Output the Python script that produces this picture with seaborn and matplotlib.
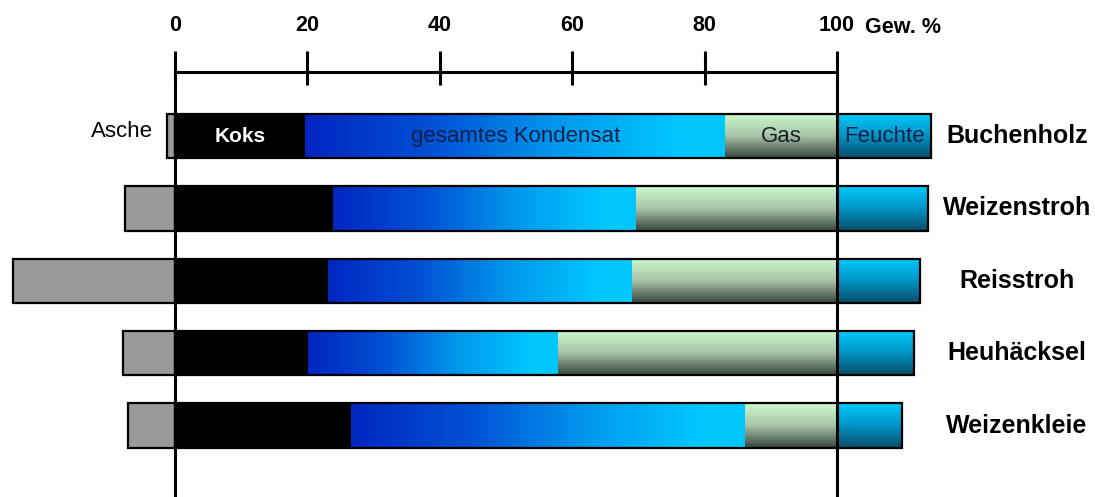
import numpy as np
import pandas as pd
import matplotlib
matplotlib.use("Agg")
import matplotlib.pyplot as plt
import seaborn as sns
from matplotlib.colors import LinearSegmentedColormap

# Mass balance of pyrolysis products (weight-% of dry feed), moisture and ash drawn outside
materials = ["Buchenholz", "Weizenstroh", "Reisstroh", "Heuhäcksel", "Weizenkleie"]
asche = [1.2, 7.5, 24.5, 7.9, 7.1]
koks = [19.7, 23.8, 23.1, 20.1, 26.6]
kondensat = [63.4, 45.9, 45.9, 37.7, 59.5]
gas = [16.9, 30.3, 31.0, 42.2, 13.9]
feuchte = [14.2, 13.8, 12.5, 11.6, 9.8]
ticks = [0, 20, 40, 60, 80, 100]
tick_labels = ["0", "20", "40", "60", "80", "100"]
unit_label = "Gew. %"
segment_labels = ["Asche", "Koks", "gesamtes Kondensat", "Gas", "Feuchte"]

sns.set_theme(style="white")
plt.rcParams["font.family"] = ["Liberation Sans", "DejaVu Sans"]

df = pd.DataFrame({
    "material": materials,
    "asche": asche,
    "koks": koks,
    "kondensat": kondensat,
    "gas": gas,
    "feuchte": feuchte,
})
df["asche_neg"] = -df["asche"]
df["kond_end"] = df["koks"] + df["kondensat"]
df["trocken"] = df["kond_end"] + df["gas"]
df["gesamt"] = df["trocken"] + df["feuchte"]

W, H = 1095, 497
fig = plt.figure(figsize=(W / 100, H / 100), dpi=100)
axis_px = 72
ax = fig.add_axes([0, 0, 1, 1 - axis_px / H])

BAR_H = 0.615
EDGE = 1.6
LINE = 2.2

# ash to the left of zero
sns.barplot(data=df, x="asche_neg", y="material", orient="h", color="#999999",
            edgecolor="black", linewidth=EDGE, width=BAR_H, ax=ax, zorder=3)

# outline of the full bar (dry products + moisture)
n0 = len(ax.patches)
sns.barplot(data=df, x="gesamt", y="material", orient="h", color="white",
            edgecolor="black", linewidth=EDGE, width=BAR_H, ax=ax, zorder=4)
outline = ax.patches[n0:]
for p in outline:
    p.set_facecolor("none")

# char (Koks)
sns.barplot(data=df, x="koks", y="material", orient="h", color="black",
            linewidth=0, width=BAR_H, ax=ax, zorder=2)

cmap_kond = LinearSegmentedColormap.from_list("kond", ["#0026c0", "#0050d4", "#0098ec", "#00c8ff"])
cmap_gas = LinearSegmentedColormap.from_list("gas", ["#ccfacc", "#a8c4a8", "#34443a"])
cmap_feu = LinearSegmentedColormap.from_list("feu", ["#00ccff", "#0094c4", "#0a4c68"])

t = np.linspace(0, 1, 256)
horiz = cmap_kond(np.clip(t / 0.9, 0, 1))[None, :, :3]
vert_gas = cmap_gas(t)[:, None, :3]
vert_feu = cmap_feu(t)[:, None, :3]

for i, p in enumerate(outline):
    y0 = p.get_y()
    y1 = y0 + p.get_height()
    row = df.iloc[i]
    ax.imshow(horiz, extent=(row["koks"], row["kond_end"], y1, y0), aspect="auto",
              interpolation="bilinear", zorder=2)
    ax.imshow(vert_gas, extent=(row["kond_end"], row["trocken"], y1, y0), aspect="auto",
              interpolation="bilinear", zorder=2)
    ax.imshow(vert_feu, extent=(row["trocken"], row["gesamt"], y1, y0), aspect="auto",
              interpolation="bilinear", zorder=2)

px_per_unit = (837 - 175) / 100
ax.set_xlim(-175 / px_per_unit, (W - 175) / px_per_unit)
ax.set_ylim(4.986, -0.884)

# only the top spine remains, spanning 0..100
for side in ["left", "right", "bottom"]:
    ax.spines[side].set_visible(False)
ax.spines["top"].set_visible(True)
ax.spines["top"].set_bounds(0, 100)
ax.spines["top"].set_linewidth(LINE)
ax.spines["top"].set_color("black")

# top axis with ticks crossing the axis line
ax.xaxis.set_ticks_position("top")
ax.set_xticks(ticks, tick_labels)
ax.set_xticks(ticks, minor=True)
ax.xaxis.remove_overlapping_locs = False
ax.tick_params(axis="x", which="major", direction="out", length=21 * 0.72, width=LINE,
               pad=15 * 0.72, labelsize=15.5, color="black", labelcolor="black",
               top=True, bottom=False, labeltop=True, labelbottom=False)
ax.tick_params(axis="x", which="minor", direction="in", length=13 * 0.72, width=LINE,
               color="black", top=True, bottom=False)
for lab in ax.get_xticklabels():
    lab.set_fontweight("bold")
ax.set_yticks([])
ax.set_xlabel("")
ax.set_ylabel("")

ax.axvline(0, color="black", lw=LINE, zorder=5)
ax.axvline(100, color="black", lw=LINE, zorder=5)

ax.text(104.2, 1 + (axis_px - 33) / (H - axis_px), unit_label,
        transform=ax.get_xaxis_transform(), ha="left", va="baseline",
        fontsize=15.5, fontweight="bold", color="black", clip_on=False)

# material names on the right
for i, name in enumerate(materials):
    ax.text((1017 - 175) / px_per_unit, i, name, ha="center", va="center",
            fontsize=18, fontweight="bold", color="black")

# segment names on the first bar
first = df.iloc[0]
ax.text(-first["asche"] - 14 / px_per_unit, -0.06, segment_labels[0], ha="right",
        va="center", fontsize=16, color="black")
ax.text(first["koks"] / 2, 0, segment_labels[1], ha="center", va="center",
        fontsize=15, fontweight="bold", color="white", zorder=6)
ax.text((first["koks"] + first["kond_end"]) / 2, 0, segment_labels[2], ha="center",
        va="center", fontsize=16, color="#14204a", zorder=6)
ax.text((first["kond_end"] + first["trocken"]) / 2, 0, segment_labels[3], ha="center",
        va="center", fontsize=16, color="#1a1e24", zorder=6)
ax.text((first["trocken"] + first["gesamt"]) / 2, 0, segment_labels[4], ha="center",
        va="center", fontsize=16, color="#14204a", zorder=6)

fig.savefig("out.png", dpi=100)
